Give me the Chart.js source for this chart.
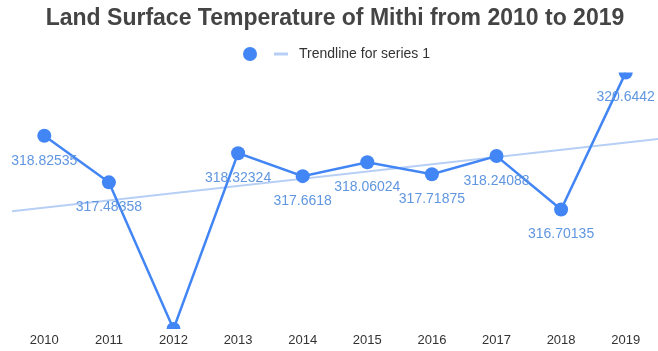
<!DOCTYPE html>
<html>
<head>
<meta charset="utf-8">
<script src="https://cdn.jsdelivr.net/npm/chart.js@4/dist/chart.umd.min.js"></script>
<style>
  html, body { margin: 0; padding: 0; background: #fff; }
  #wrap { width: 658px; height: 351px; }
</style>
</head>
<body>
<div id="wrap"><canvas id="lstChart" width="658" height="351"></canvas></div>
<script>
// Land surface temperature (K), Mithi, one value per year
const years = [2010, 2011, 2012, 2013, 2014, 2015, 2016, 2017, 2018, 2019];
const lstValues = [318.82535, 317.48358, 313.26, 318.32324, 317.6618, 318.06024, 317.71875, 318.24088, 316.70135, 320.6442];
const trendLabel = 'Trendline for series 1';

const blue = '#4285f4';
const trendBlue = '#b7cff5';
const labelBlue = '#6096e0';
const fontFamily = 'Arial, "Liberation Sans", sans-serif';

// least squares fit for the trendline
const n = years.length;
const meanX = years.reduce((a, b) => a + b, 0) / n;
const meanY = lstValues.reduce((a, b) => a + b, 0) / n;
let sxy = 0, sxx = 0;
years.forEach((x, i) => {
  sxy += (x - meanX) * (lstValues[i] - meanY);
  sxx += (x - meanX) * (x - meanX);
});
const slope = sxy / sxx;
const trendAt = x => meanY + slope * (x - meanX);
const xMin = years[0] - 0.5;
const xMax = years[n - 1] + 0.5;

// value labels under each point + the little legend up top
const extras = {
  id: 'extras',
  afterDatasetsDraw(chart) {
    const ctx = chart.ctx;
    const meta = chart.getDatasetMeta(0);
    ctx.save();
    ctx.font = '14px ' + fontFamily;
    ctx.fillStyle = labelBlue;
    ctx.textAlign = 'center';
    ctx.textBaseline = 'middle';
    meta.data.forEach((pt, i) => {
      // keep labels inside the plot when the point sits on the top edge
      const y = Math.max(pt.y + 25, chart.chartArea.top + 20);
      if (y > chart.chartArea.bottom) return;
      ctx.fillText(String(lstValues[i]), pt.x, y);
    });
    ctx.restore();
  },
  afterDraw(chart) {
    const ctx = chart.ctx;
    const ly = 54;
    ctx.save();
    ctx.fillStyle = blue;
    ctx.beginPath();
    ctx.arc(250, ly, 7, 0, Math.PI * 2);
    ctx.fill();
    ctx.strokeStyle = trendBlue;
    ctx.lineWidth = 3;
    ctx.beginPath();
    ctx.moveTo(274, ly);
    ctx.lineTo(288, ly);
    ctx.stroke();
    ctx.fillStyle = '#333';
    ctx.font = '14px ' + fontFamily;
    ctx.textBaseline = 'middle';
    ctx.fillText(trendLabel, 299, ly);
    ctx.restore();
  }
};

new Chart(document.getElementById('lstChart'), {
  type: 'line',
  data: {
    datasets: [
      {
        label: '',
        data: years.map((x, i) => ({ x: x, y: lstValues[i] })),
        borderColor: blue,
        backgroundColor: blue,
        borderWidth: 2.5,
        pointRadius: 7,
        pointHoverRadius: 7,
        pointBorderWidth: 0,
        tension: 0,
        clip: 0
      },
      {
        label: trendLabel,
        data: [{ x: xMin, y: trendAt(xMin) }, { x: xMax, y: trendAt(xMax) }],
        borderColor: trendBlue,
        borderWidth: 2,
        pointRadius: 0,
        tension: 0,
        clip: 0
      }
    ]
  },
  options: {
    responsive: false,
    animation: false,
    layout: { autoPadding: false, padding: { left: 12, right: 0, top: 0, bottom: 0 } },
    plugins: {
      legend: { display: false },
      tooltip: { enabled: false },
      title: {
        display: true,
        text: 'Land Surface Temperature of Mithi from 2010 to 2019',
        color: '#444',
        font: { family: fontFamily, size: 23, weight: 'bold' },
        padding: { top: 5, bottom: 40 }
      }
    },
    scales: {
      x: {
        type: 'linear',
        min: xMin,
        max: xMax,
        grid: { display: false, drawTicks: false },
        border: { display: false },
        afterBuildTicks: axis => { axis.ticks = years.map(v => ({ value: v })); },
        afterFit: axis => {
          axis.height = 22;
          axis.paddingLeft = 0;
          axis.paddingRight = 0;
        },
        ticks: {
          padding: 4,
          color: '#333',
          font: { family: fontFamily, size: 13 },
          maxRotation: 0,
          autoSkip: false,
          callback: v => String(v)
        }
      },
      y: {
        display: false,
        min: Math.min(...lstValues),
        max: Math.max(...lstValues)
      }
    }
  },
  plugins: [extras]
});
</script>
</body>
</html>
